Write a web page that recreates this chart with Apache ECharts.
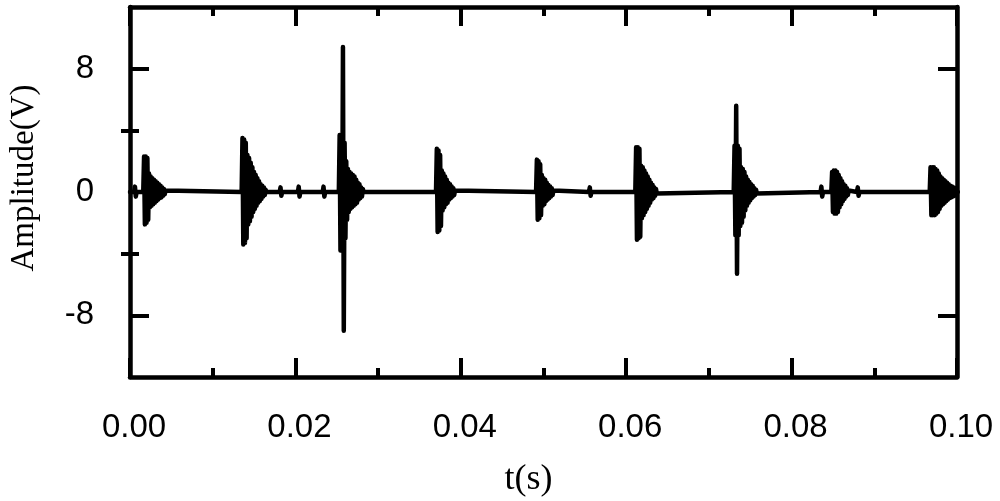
<!DOCTYPE html>
<html>
<head>
<meta charset="utf-8">
<script src="https://cdn.jsdelivr.net/npm/echarts@6/dist/echarts.min.js"></script>
<style>
  html, body { margin: 0; padding: 0; background: #fff; }
  #chart { width: 1000px; height: 501px; }
</style>
</head>
<body>
<div id="chart"></div>
<script>
// sampling step of the recorded bursts (s)
const dt = 0.0001

// burst onsets (s)
const burstOnsets = [0.0017, 0.0136, 0.02535, 0.0371, 0.0492, 0.0612, 0.0731, 0.0849, 0.0968]

// oscillation extremes of each burst (V)
const burst1 = [2.3, -2.1, 2.3, -2.0, 2.2, -1.8, 1.2, -1.0, 1.0, -0.9, 0.9, -0.8, 0.8, -0.7, 0.7, -0.6, 0.6, -0.5, 0.5, -0.4, 0.4, -0.35, 0.3, -0.25, 0.2, -0.15, 0.1]
const burst2 = [3.5, -3.4, 3.4, -3.3, 3.2, -3.0, 2.4, -2.1, 2.2, -1.9, 1.9, -1.6, 1.6, -1.3, 1.3, -1.1, 1.1, -0.9, 0.9, -0.7, 0.7, -0.6, 0.5, -0.45, 0.4, -0.3, 0.3, -0.2, 0.15]
const burst3 = [3.7, -3.8, 3.7, -3.8, 9.4, -9.0, 3.2, -3.0, 2.0, -1.8, 1.5, -1.3, 1.3, -1.1, 1.2, -1.0, 1.1, -0.9, 1.0, -0.8, 0.8, -0.7, 0.6, -0.5, 0.5, -0.4, 0.3, -0.3, 0.2]
const burst4 = [2.8, -2.6, 2.7, -2.5, 2.4, -2.2, 1.4, -1.2, 1.2, -1.0, 1.0, -0.8, 0.8, -0.7, 0.6, -0.5, 0.5, -0.4, 0.35, -0.3, 0.25, -0.2, 0.1]
const burst5 = [2.1, -1.8, 2.0, -1.7, 1.8, -1.5, 1.1, -0.9, 0.9, -0.8, 0.8, -0.6, 0.6, -0.5, 0.45, -0.4, 0.35, -0.3, 0.25, -0.2, 0.1]
const burst6 = [2.9, -3.1, 2.9, -3.0, 2.8, -2.9, 1.7, -1.7, 1.6, -1.5, 1.4, -1.3, 1.2, -1.1, 1.0, -0.9, 0.8, -0.7, 0.6, -0.5, 0.45, -0.4, 0.3, -0.25, 0.2, -0.1]
const burst7 = [3.0, -2.8, 5.6, -5.3, 3.0, -2.8, 2.8, -2.2, 1.6, -2.0, 1.5, -1.6, 1.3, -1.2, 1.0, -0.9, 0.8, -0.7, 0.65, -0.55, 0.5, -0.4, 0.4, -0.3, 0.25, -0.2, 0.15, -0.1]
const burst8 = [1.3, -1.3, 1.4, -1.4, 1.4, -1.4, 1.3, -1.3, 1.1, -1.0, 0.9, -0.8, 0.7, -0.6, 0.5, -0.45, 0.4, -0.3, 0.25, -0.2, 0.1]
const burst9 = [1.6, -1.5, 1.6, -1.5, 1.6, -1.5, 1.5, -1.4, 1.4, -1.3, 1.2, -1.1, 1.0, -0.9, 0.9, -0.8, 0.8, -0.7, 0.7, -0.6, 0.6, -0.5, 0.5, -0.4, 0.4, -0.35, 0.35, -0.3, 0.3, -0.25, 0.25, -0.2]
const bursts = [burst1, burst2, burst3, burst4, burst5, burst6, burst7, burst8, burst9]

// small noise blips on the baseline: time (s) and extremes (V)
const blipTimes = [0.0006, 0.0182, 0.0204, 0.0234, 0.0556, 0.0836, 0.0880]
const blipValues = [[0.35, -0.3], [0.3, -0.25], [0.35, -0.3], [0.35, -0.3], [0.3, -0.25], [0.35, -0.3], [0.3, -0.25]]

const xTickLabels = ['0.00', '0.02', '0.04', '0.06', '0.08', '0.10']
const yTickValues = [-8, 0, 8]
const yMinorValues = [-4, 4]

// build the signal as one time series
const events = []
burstOnsets.forEach((t, i) => events.push({ t: t, v: bursts[i] }))
blipTimes.forEach((t, i) => events.push({ t: t, v: blipValues[i] }))
events.sort((a, b) => a.t - b.t)

const signal = [[0, 0]]
events.forEach(e => {
  signal.push([e.t - dt, 0])
  e.v.forEach((v, k) => signal.push([e.t + k * dt, v]))
  signal.push([e.t + e.v.length * dt, 0])
  signal.push([e.t + (e.v.length + 1) * dt, 0])
})
signal.push([0.1, 0])

const black = '#000'
const labelFont = { color: black, fontFamily: 'Liberation Sans, Arial, sans-serif', fontSize: 33 }

const xBase = {
  type: 'value', min: 0, max: 0.1, interval: 0.02,
  axisLine: { show: true, onZero: false, lineStyle: { color: black, width: 4.5 } },
  axisTick: { show: true, inside: true, length: 19, lineStyle: { color: black, width: 4 } },
  minorTick: { show: true, splitNumber: 2, length: 9, lineStyle: { color: black, width: 4 } },
  splitLine: { show: false },
}

const yBase = {
  type: 'value', min: -12, max: 12,
  axisLine: { show: true, onZero: false, lineStyle: { color: black, width: 4.5 } },
  splitLine: { show: false },
}

const chart = echarts.init(document.getElementById('chart'))
chart.setOption({
  animation: false,
  backgroundColor: '#fff',
  grid: { left: 130, right: 43, top: 7, bottom: 124, containLabel: false, outerBoundsMode: 'none' },
  xAxis: [
    Object.assign({}, xBase, {
      position: 'bottom',
      name: 't(s)',
      nameLocation: 'middle',
      nameGap: 85,
      nameTextStyle: { color: black, fontFamily: 'Liberation Serif, Times New Roman, serif', fontSize: 36, padding: [0, 30, 0, 0] },
      axisLabel: { ...labelFont, margin: 34, padding: [0, 0, 0, 8], formatter: (v, i) => xTickLabels[i] },
    }),
    Object.assign({}, xBase, { position: 'top', axisLabel: { show: false } }),
  ],
  yAxis: [
    Object.assign({}, yBase, {
      position: 'left',
      name: 'Amplitude(V)',
      nameLocation: 'middle',
      nameGap: 89,
      nameTextStyle: { color: black, fontFamily: 'Liberation Serif, Times New Roman, serif', fontSize: 33, padding: [0, 0, 0, 28] },
      axisTick: { show: true, inside: true, length: 19, customValues: yTickValues, lineStyle: { color: black, width: 4 } },
      axisLabel: { ...labelFont, margin: 36, customValues: yTickValues },
    }),
    Object.assign({}, yBase, {
      position: 'left',
      axisLine: { show: false },
      axisTick: { show: true, inside: true, length: 9, customValues: yMinorValues, lineStyle: { color: black, width: 4 } },
      axisLabel: { show: false },
    }),
    Object.assign({}, yBase, {
      position: 'right',
      axisTick: { show: true, inside: true, length: 19, customValues: yTickValues, lineStyle: { color: black, width: 4 } },
      axisLabel: { show: false },
    }),
    Object.assign({}, yBase, {
      position: 'right',
      axisLine: { show: false },
      axisTick: { show: true, inside: true, length: 9, customValues: yMinorValues, lineStyle: { color: black, width: 4 } },
      axisLabel: { show: false },
    }),
  ],
  series: [
    {
      type: 'line',
      xAxisIndex: 0,
      yAxisIndex: 0,
      data: signal,
      showSymbol: false,
      symbol: 'none',
      clip: true,
      lineStyle: { color: black, width: 4.5, join: 'round', cap: 'round' },
    },
  ],
})
</script>
</body>
</html>
